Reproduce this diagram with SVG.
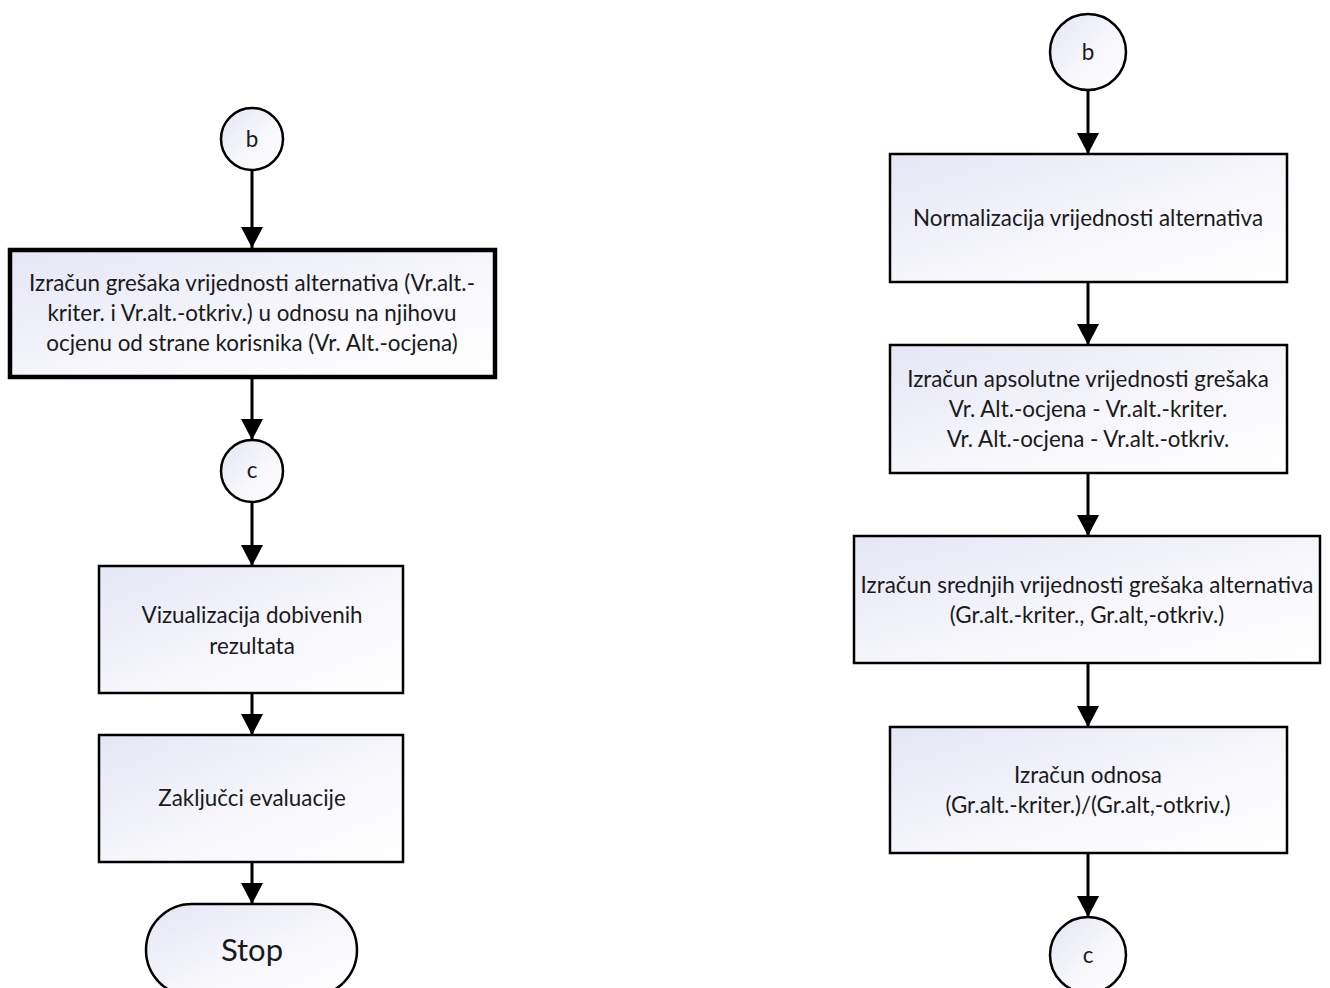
<svg xmlns="http://www.w3.org/2000/svg" width="1330" height="988" viewBox="0 0 1330 988">
<defs>
<linearGradient id="fillg" x1="0" y1="0" x2="1" y2="1">
<stop offset="0" stop-color="#e4e6f4"/>
<stop offset="0.6" stop-color="#f8f8fc"/>
<stop offset="1" stop-color="#ffffff"/>
</linearGradient>
<marker id="arr" markerUnits="userSpaceOnUse" markerWidth="22" markerHeight="22" viewBox="0 0 22 22" refX="21" refY="11" orient="auto">
<path d="M0,0 L21,11 L0,22 Z" fill="#000"/>
</marker>
</defs>
<style>
.box{fill:url(#fillg);stroke:#000;stroke-width:2.5}
.thick{stroke-width:4.5}
.t{font-family:Lato,"Liberation Sans",sans-serif;font-size:22.4px;fill:#1a1a1a;text-anchor:middle}
.big{font-size:31px}
.con{stroke:#000;stroke-width:3;fill:none;marker-end:url(#arr)}
</style>
<rect width="1330" height="988" fill="#fff"/>
<g id="connectors">
<line class="con" x1="252" y1="170" x2="252" y2="248"/>
<line class="con" x1="252" y1="379" x2="252" y2="440"/>
<line class="con" x1="252" y1="502" x2="252" y2="566"/>
<line class="con" x1="252" y1="693" x2="252" y2="735"/>
<line class="con" x1="252" y1="862" x2="252" y2="904"/>
<line class="con" x1="1088" y1="90" x2="1088" y2="154"/>
<line class="con" x1="1088" y1="282" x2="1088" y2="345"/>
<line class="con" x1="1088" y1="473" x2="1088" y2="536"/>
<line class="con" x1="1088" y1="663" x2="1088" y2="727"/>
<line class="con" x1="1088" y1="853" x2="1088" y2="917"/>
</g>
<g id="left_b">
<circle class="box" cx="252" cy="139" r="31"/>
<text class="t" x="252" y="147">b</text>
</g>
<g id="izracun_gresaka">
<rect class="box thick" x="10" y="250" width="485" height="127"/>
<text class="t" x="252" y="291">Izračun grešaka vrijednosti alternativa (Vr.alt.-</text>
<text class="t" x="252" y="321">kriter. i Vr.alt.-otkriv.) u odnosu na njihovu</text>
<text class="t" x="252" y="351">ocjenu od strane korisnika (Vr. Alt.-ocjena)</text>
</g>
<g id="left_c">
<circle class="box" cx="252" cy="471" r="31"/>
<text class="t" x="252" y="478">c</text>
</g>
<g id="vizualizacija">
<rect class="box" x="99" y="566" width="304" height="127"/>
<text class="t" x="252" y="623">Vizualizacija dobivenih</text>
<text class="t" x="252" y="654">rezultata</text>
</g>
<g id="zakljucci">
<rect class="box" x="99" y="735" width="304" height="127"/>
<text class="t" x="252" y="806">Zaključci evaluacije</text>
</g>
<g id="stop">
<rect class="box" x="146" y="904" width="211" height="92" rx="46" ry="46"/>
<text class="t big" x="252" y="961">Stop</text>
</g>
<g id="right_b">
<circle class="box" cx="1088" cy="52" r="38"/>
<text class="t" x="1088" y="60">b</text>
</g>
<g id="normalizacija">
<rect class="box" x="890" y="154" width="397" height="128"/>
<text class="t" x="1088" y="226">Normalizacija vrijednosti alternativa</text>
</g>
<g id="apsolutne">
<rect class="box" x="890" y="345" width="397" height="128"/>
<text class="t" x="1088" y="387">Izračun apsolutne vrijednosti grešaka</text>
<text class="t" x="1088" y="417">Vr. Alt.-ocjena - Vr.alt.-kriter.</text>
<text class="t" x="1088" y="447">Vr. Alt.-ocjena - Vr.alt.-otkriv.</text>
</g>
<g id="srednjih">
<rect class="box" x="854" y="536" width="466" height="127"/>
<text class="t" x="1087" y="593">Izračun srednjih vrijednosti grešaka alternativa</text>
<text class="t" x="1087" y="623">(Gr.alt.-kriter., Gr.alt,-otkriv.)</text>
</g>
<g id="odnosa">
<rect class="box" x="890" y="727" width="397" height="126"/>
<text class="t" x="1088" y="783">Izračun odnosa</text>
<text class="t" x="1088" y="813">(Gr.alt.-kriter.)/(Gr.alt,-otkriv.)</text>
</g>
<g id="right_c">
<circle class="box" cx="1088" cy="955" r="38"/>
<text class="t" x="1088" y="963">c</text>
</g>
</svg>
